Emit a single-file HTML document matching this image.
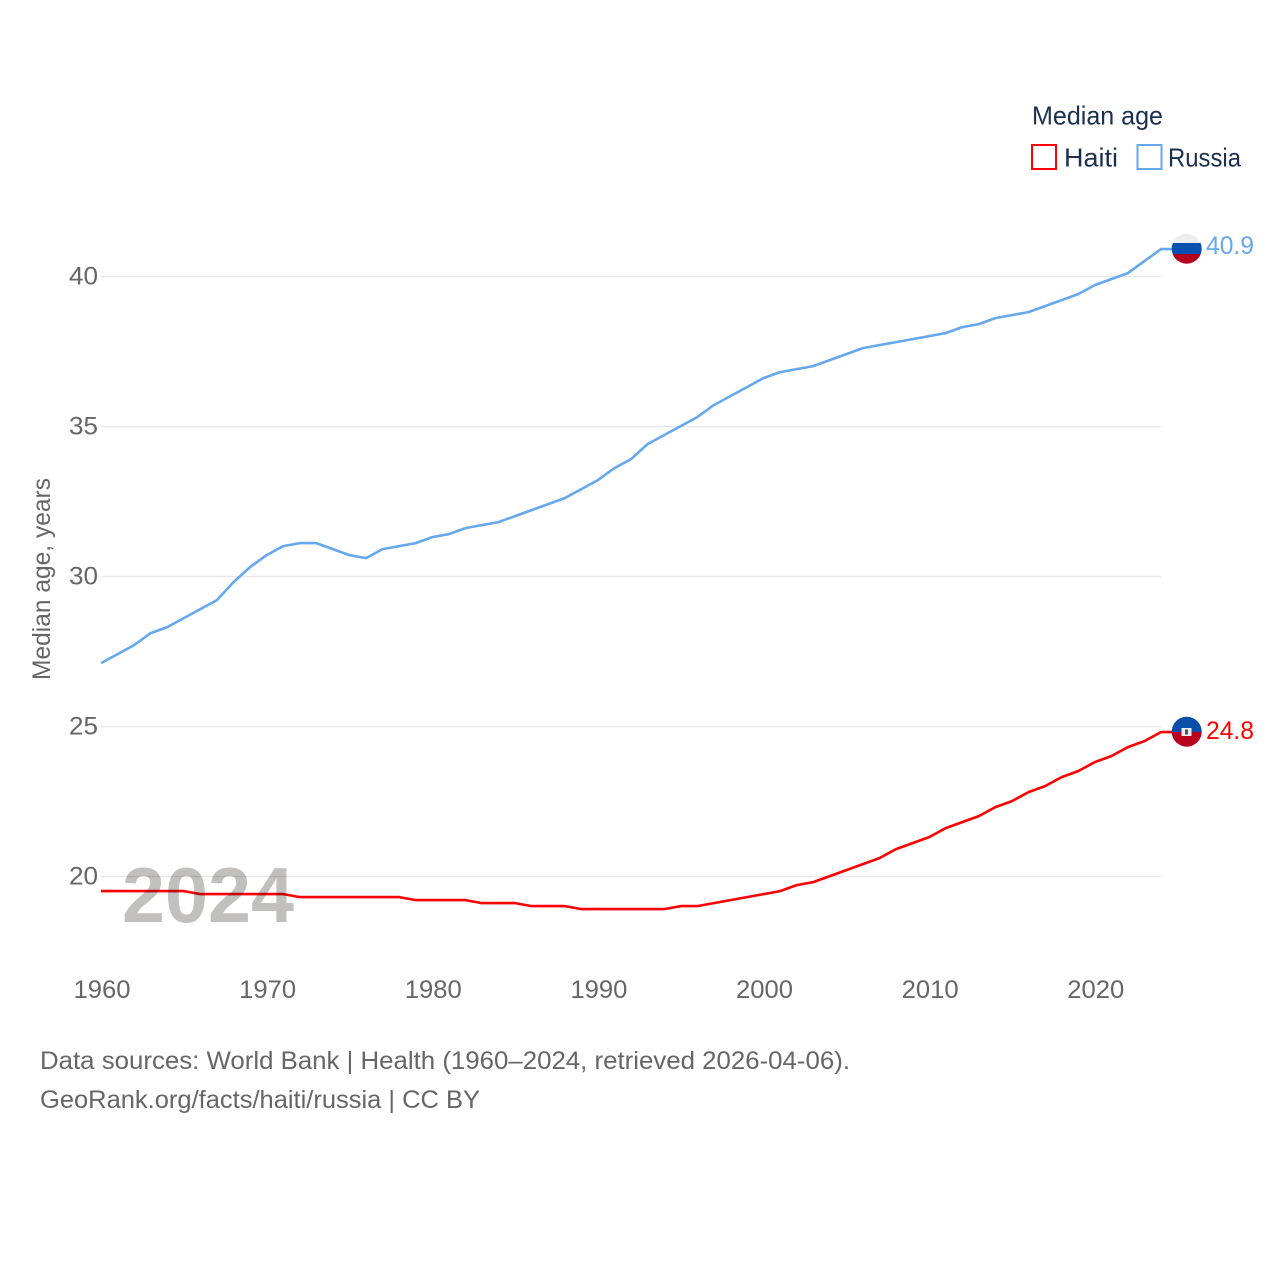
<!DOCTYPE html>
<html lang="en">
<head>
<meta charset="utf-8">
<title>Median age: Haiti and Russia</title>
<style>
html,body{margin:0;padding:0;background:#fff;width:1280px;height:1280px;overflow:hidden}
svg{display:block}
text{font-family:"Liberation Sans",sans-serif}
</style>
</head>
<body>
<svg id="chart" xmlns="http://www.w3.org/2000/svg" width="1280" height="1280" viewBox="0 0 1280 1280">
  <defs>
    <clipPath id="clip-russia"><circle cx="1186.7" cy="248.7" r="15"/></clipPath>
    <clipPath id="clip-haiti"><circle cx="1186.7" cy="731.7" r="15"/></clipPath>
  </defs>
  <g id="grid"></g>
  <g id="ytick-labels"></g>
  <g id="xtick-labels"></g>
  <g id="series"></g>
  <text x="122" y="922" font-size="78" font-weight="700" fill="#c1c0bf" textLength="172" lengthAdjust="spacingAndGlyphs" style="mix-blend-mode:multiply">2024</text>
  <text transform="translate(50,680) rotate(-90)" font-size="25" fill="#666" textLength="202" lengthAdjust="spacingAndGlyphs">Median age, years</text>

  <g>
    <text x="1032" y="124.5" font-size="26" fill="#1b2f4f" textLength="131" lengthAdjust="spacingAndGlyphs">Median age</text>
    <rect x="1032" y="145" width="24" height="24" fill="none" stroke="#ff0000" stroke-width="2"/>
    <text x="1064" y="166.5" font-size="26" fill="#1b2f4f" textLength="54" lengthAdjust="spacingAndGlyphs">Haiti</text>
    <rect x="1137.5" y="145" width="24" height="24" fill="none" stroke="#65a8ee" stroke-width="2"/>
    <text x="1168" y="166.5" font-size="26" fill="#1b2f4f" textLength="73" lengthAdjust="spacingAndGlyphs">Russia</text>
  </g>

  <g clip-path="url(#clip-russia)">
    <rect x="1170" y="232" width="34" height="11" fill="#eeeeee"/>
    <rect x="1170" y="243" width="34" height="11" fill="#0a50b0"/>
    <rect x="1170" y="254" width="34" height="12" fill="#b4001f"/>
  </g>
  <text x="1206" y="254" font-size="25" fill="#65a8ee" textLength="48" lengthAdjust="spacingAndGlyphs">40.9</text>

  <g clip-path="url(#clip-haiti)">
    <rect x="1170" y="715" width="34" height="17" fill="#0a4ea8"/>
    <rect x="1170" y="732" width="34" height="17" fill="#b8001f"/>
    <rect x="1181.5" y="728" width="10" height="8" fill="#ececec"/>
    <rect x="1185" y="729.5" width="3" height="5" fill="#445a70"/>
  </g>
  <text x="1206" y="739" font-size="25" fill="#ff0000" textLength="48" lengthAdjust="spacingAndGlyphs">24.8</text>

  <text x="40" y="1069" font-size="25" fill="#666" textLength="810" lengthAdjust="spacingAndGlyphs">Data sources: World Bank | Health (1960–2024, retrieved 2026-04-06).</text>
  <text x="40" y="1108" font-size="25" fill="#666" textLength="440" lengthAdjust="spacingAndGlyphs">GeoRank.org/facts/haiti/russia | CC BY</text>
</svg>
<script>
const years = [1960,1961,1962,1963,1964,1965,1966,1967,1968,1969,1970,1971,1972,1973,1974,1975,1976,1977,1978,1979,1980,1981,1982,1983,1984,1985,1986,1987,1988,1989,1990,1991,1992,1993,1994,1995,1996,1997,1998,1999,2000,2001,2002,2003,2004,2005,2006,2007,2008,2009,2010,2011,2012,2013,2014,2015,2016,2017,2018,2019,2020,2021,2022,2023,2024];
const russiaValues = [27.1,27.4,27.7,28.1,28.3,28.6,28.9,29.2,29.8,30.3,30.7,31.0,31.1,31.1,30.9,30.7,30.6,30.9,31.0,31.1,31.3,31.4,31.6,31.7,31.8,32.0,32.2,32.4,32.6,32.9,33.2,33.6,33.9,34.4,34.7,35.0,35.3,35.7,36.0,36.3,36.6,36.8,36.9,37.0,37.2,37.4,37.6,37.7,37.8,37.9,38.0,38.1,38.3,38.4,38.6,38.7,38.8,39.0,39.2,39.4,39.7,39.9,40.1,40.5,40.9];
const haitiValues = [19.5,19.5,19.5,19.5,19.5,19.5,19.4,19.4,19.4,19.4,19.4,19.4,19.3,19.3,19.3,19.3,19.3,19.3,19.3,19.2,19.2,19.2,19.2,19.1,19.1,19.1,19.0,19.0,19.0,18.9,18.9,18.9,18.9,18.9,18.9,19.0,19.0,19.1,19.2,19.3,19.4,19.5,19.7,19.8,20.0,20.2,20.4,20.6,20.9,21.1,21.3,21.6,21.8,22.0,22.3,22.5,22.8,23.0,23.3,23.5,23.8,24.0,24.3,24.5,24.8];
const yTicks = [20,25,30,35,40];
const xTicks = [1960,1970,1980,1990,2000,2010,2020];

const NS = 'http://www.w3.org/2000/svg';
const xScale = function (year) { return 101 + (year - 1960) * (1161 - 101) / 64; };
const yScale = function (value) { return 876.5 - (value - 20) * 30; };

const gridGroup = document.getElementById('grid');
const yLabelGroup = document.getElementById('ytick-labels');
const xLabelGroup = document.getElementById('xtick-labels');
const seriesGroup = document.getElementById('series');

yTicks.forEach(function (tick) {
  const line = document.createElementNS(NS, 'line');
  
  
  line.setAttribute('x1', 101);
  line.setAttribute('x2', 1161);
  line.setAttribute('y1', yScale(tick));
  line.setAttribute('y2', yScale(tick));
  line.setAttribute('stroke', '#e8e8ea');
  line.setAttribute('stroke-width', '1.5');
  gridGroup.appendChild(line);

  const label = document.createElementNS(NS, 'text');
  
  
  label.setAttribute('x', 98);
  label.setAttribute('y', yScale(tick) + 8);
  label.setAttribute('text-anchor', 'end');
  label.setAttribute('font-size', '25');
  label.setAttribute('fill', '#666');
  label.setAttribute('textLength', '29');
  label.setAttribute('lengthAdjust', 'spacingAndGlyphs');
  label.textContent = String(tick);
  yLabelGroup.appendChild(label);
});

xTicks.forEach(function (tick) {
  const label = document.createElementNS(NS, 'text');
  
  
  label.setAttribute('x', xScale(tick) - 27.5);
  label.setAttribute('y', 998);
  label.setAttribute('font-size', '25');
  label.setAttribute('fill', '#666');
  label.setAttribute('textLength', '57');
  label.setAttribute('lengthAdjust', 'spacingAndGlyphs');
  label.textContent = String(tick);
  xLabelGroup.appendChild(label);
});

function linePath(values) {
  const parts = values.map(function (value, i) {
    return (i === 0 ? 'M' : 'L') + xScale(years[i]).toFixed(2) + ' ' + (yScale(value) - 0.4).toFixed(2);
  });
  parts.push('h11');
  return parts.join(' ');
}

const russiaLine = document.createElementNS(NS, 'path');


russiaLine.setAttribute('d', linePath(russiaValues));
russiaLine.setAttribute('fill', 'none');
russiaLine.setAttribute('stroke', '#65a8ee');
russiaLine.setAttribute('stroke-width', '2.6');
russiaLine.setAttribute('stroke-linejoin', 'round');
seriesGroup.appendChild(russiaLine);

const haitiLine = document.createElementNS(NS, 'path');


haitiLine.setAttribute('d', linePath(haitiValues));
haitiLine.setAttribute('fill', 'none');
haitiLine.setAttribute('stroke', '#ff0000');
haitiLine.setAttribute('stroke-width', '2.6');
haitiLine.setAttribute('stroke-linejoin', 'round');
seriesGroup.appendChild(haitiLine);
</script>
</body>
</html>
